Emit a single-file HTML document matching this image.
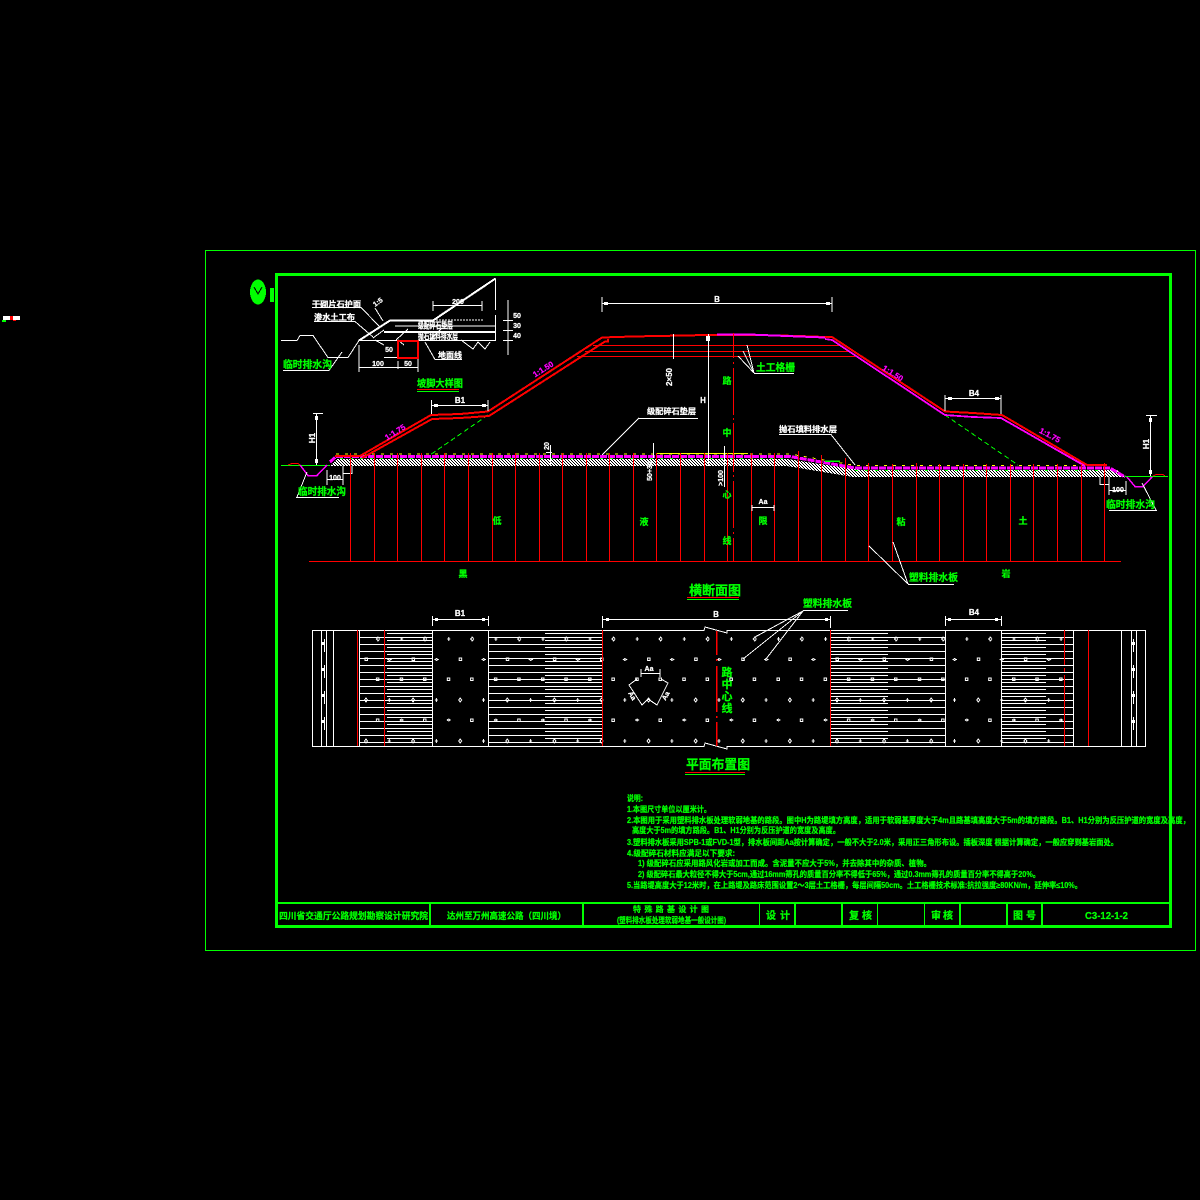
<!DOCTYPE html>
<html><head><meta charset="utf-8"><style>
html,body{margin:0;padding:0;background:#000}
svg{display:block}
text{font-family:"Liberation Sans","Noto Sans CJK SC",sans-serif;font-weight:700;stroke-width:.25px}
.g{fill:#0f0;stroke:#0f0}.w{fill:#fff;stroke:#fff}.m{fill:#f0f;stroke:#f0f}
</style></head><body>
<svg xmlns="http://www.w3.org/2000/svg" width="1200" height="1200" viewBox="0 0 1200 1200" shape-rendering="crispEdges">
<defs>
<pattern id="full" patternUnits="userSpaceOnUse" x="0" y="637" width="10" height="7"><rect width="10" height="1" fill="#fff"/></pattern>
<pattern id="half" patternUnits="userSpaceOnUse" x="0" y="633" width="10" height="7"><rect width="10" height="1" fill="#fff"/></pattern>
<pattern id="hatch" patternUnits="userSpaceOnUse" width="3" height="3"><rect width="3" height="3" fill="#fff"/><rect width="1" height="1" fill="#000"/><rect x="1" y="1" width="1" height="1" fill="#000"/><rect x="2" y="2" width="1" height="1" fill="#000"/></pattern>
<pattern id="dots" patternUnits="userSpaceOnUse" x="364" y="630" width="47.1" height="122">
<g fill="none" stroke="#fff" stroke-width="1">
<path d="M14 7l1.5 2-1.5 2-1.5-2zM36 9h3M37.5 7v4"/>
<rect x="1" y="28" width="2.5" height="2.5"/><path d="M24 29.5l1.5-1 1.5 1-1.5 1z"/>
<rect x="12.5" y="48" width="2.5" height="2.5"/><rect x="36" y="48" width="2.5" height="2.5"/>
<path d="M2 68l1.5 2-1.5 2-1.5-2zM24 70h3M25.5 68v4"/>
<rect x="12.5" y="89" width="2.5" height="2.5"/><path d="M36 90l1.5-1 1.5 1-1.5 1z"/>
<path d="M2 109l1.5 2-1.5 2-1.5-2zM24 111h3M25.5 109v4"/>
</g></pattern>
</defs>
<rect width="1200" height="1200" fill="#000"/>

<!-- frames -->
<rect x="205.5" y="250.5" width="990" height="700" fill="none" stroke="#0f0"/>
<rect x="276.5" y="274.5" width="894" height="652" fill="none" stroke="#0f0" stroke-width="3"/>
<path d="M277 903H1171M430 903V926M583 903V926M795 903V926M842 903V926M960 903V926M1007 903V926M1042 903V926" stroke="#0f0" stroke-width="2" fill="none"/>
<path d="M759.5 903V926M877.5 903V926M924.5 903V926" stroke="#0f0" fill="none"/>

<!-- stray -->
<rect x="3" y="316" width="17" height="4" fill="#fff"/><rect x="10" y="316" width="3" height="4" fill="#f00"/><rect x="2" y="320" width="4" height="2" fill="#0f0"/><rect x="13" y="320" width="3" height="1" fill="#f00"/>

<!-- logo -->
<ellipse cx="258" cy="292" rx="8" ry="12.5" fill="#0f0"/><path d="M254 287l4 7 4-7" stroke="#000" fill="none"/><rect x="270" y="288" width="4" height="14" fill="#0f0"/>

<!-- detail drawing -->
<g fill="none" stroke="#fff">
<path d="M281 340.5H297L300 335.5H313L328 357.5H348L359 340.5H495.5V315M495.5 310V278.5"/>
<path d="M495.5 278.5L433 320.5H390L359 340.5" stroke-width="2"/>
<path d="M433 320H483" stroke-dasharray="2 1"/>
<path d="M384 330L373 338M384 331.5H495M384 332.5H495" />
<path d="M395 326H495M375 340L384 345M396 340L408 329M398 340L404 345M430 340L442 328"/>
<path d="M312 307.5H361L380 327M314 321.5H355L373 337M375 308L383 321"/>
<path d="M433 301V311M482 301V311M433 305.5H482"/>
<path d="M508 300V355M503 320.5H513M503 330.5H513M503 340.5H513"/>
<path d="M425 342L435 359.5H462"/>
<path d="M461 340L473 349L478 342L485 349L490 342"/>
<path d="M359 345V372M418 355V372M398 361V369M359 367.5H418M384 357.5H398"/>
<path d="M329 370.5L342 352M283 370.5H329" stroke="#fff"/>
</g>
<rect x="398" y="341" width="20" height="17" fill="none" stroke="#f00" stroke-width="2"/>
<text x="312" y="307" font-size="8" class="w" textLength="49" lengthAdjust="spacingAndGlyphs">干砌片石护面</text>
<text x="314" y="320" font-size="8" class="w" textLength="41" lengthAdjust="spacingAndGlyphs">渗水土工布</text>
<text x="375" y="307" font-size="7" class="w" transform="rotate(-35 375 307)">1:5</text>
<text x="458" y="304" font-size="7" class="w" text-anchor="middle">200</text>
<text x="418" y="328.5" font-size="9" class="w" textLength="35" lengthAdjust="spacingAndGlyphs">级配碎石垫层</text>
<text x="418" y="339.5" font-size="9" class="w" textLength="40" lengthAdjust="spacingAndGlyphs">抛石填料排水层</text>
<text x="438" y="358" font-size="8" class="w" textLength="24" lengthAdjust="spacingAndGlyphs">地面线</text>
<text x="378" y="366" font-size="7" class="w" text-anchor="middle">100</text>
<text x="408" y="366" font-size="7" class="w" text-anchor="middle">50</text>
<text x="389" y="352" font-size="7" class="w" text-anchor="middle">50</text>
<text x="517" y="318" font-size="7" class="w" text-anchor="middle">50</text>
<text x="517" y="328" font-size="7" class="w" text-anchor="middle">30</text>
<text x="517" y="338" font-size="7" class="w" text-anchor="middle">40</text>
<text x="283" y="368" font-size="10" class="g" textLength="49" lengthAdjust="spacingAndGlyphs">临时排水沟</text>
<text x="417" y="387" font-size="10" class="g" textLength="46" lengthAdjust="spacingAndGlyphs">坡脚大样图</text>
<path d="M417 389.5H459" stroke="#f00"/><path d="M417 391.5H459" stroke="#0f0"/>

<!-- green dashed slopes -->
<path d="M488 415L430 455M945 415L1018 465" stroke="#0f0" stroke-dasharray="5 3" fill="none"/>

<!-- gravel -->
<path d="M337 459H787L860 470H1117L1126 477H853L787 466H330Z" fill="url(#hatch)"/>
<path d="M336 454H790L855 465.5H1105" fill="none" stroke="#ff0" stroke-dasharray="3 6"/>
<path d="M657 453.5H748" stroke="#ff0"/>
<path d="M330 462L336 456.5H790L855 468H1110L1125 477" fill="none" stroke="#f0f" stroke-width="3" stroke-dasharray="7 1"/>
<path d="M340 458.5H790M855 470.5H1105" stroke="#0f0" stroke-dasharray="3 7" fill="none"/>
<path d="M825 461H840" stroke="#0f0" stroke-width="1.5"/>

<!-- ground and ditches -->
<path d="M281 465.5H330M1125 476.5H1168" stroke="#0f0" fill="none"/>
<path d="M300 465L308 475.5H317L327 465M1127 477L1135 486.5H1143L1152 477" stroke="#f0f" stroke-width="1.5" fill="none"/>
<path d="M288 465L292 463.5H298L300 465M1153 476L1156 474.5H1163L1165 476" stroke="#f00" fill="none"/>
<path d="M1100 477V484.5H1109V477M343 466V473.5H352V466" stroke="#fff" fill="none"/>

<!-- embankment -->
<g fill="none" stroke="#f00" stroke-width="2">
<path d="M335 456H360L431 415L460 414L488 411.5L602 337.5L632 336.5L683 335.5L717 334.8"/>
<path d="M362 458L432 419L460 418L489 416L605 341.5H608V339"/>
<path d="M717 334.8H749L799 336L825 337H832L945 411.5L973 413L1002 415L1087 465H1107"/>
</g>
<g fill="none" stroke="#f00" stroke-width="1">
<path d="M593 345.5H840M585 351.5H848M577 356.5H855"/>
</g>
<path d="M717 334.5H749L799 336.5L825 337.5" stroke="#f0f" stroke-width="2" fill="none"/>
<path d="M825 339L832 340L945 415L973 417L1001 418L1085 466" stroke="#f0f" stroke-width="1.8" fill="none"/>

<!-- drains -->
<g transform="translate(.5 0)">
<path d="M350 453V561M374 453V561M397 453V561M421 453V561M444 453V561M468 453V561M492 453V561M515 453V561M539 453V561M562 453V561M586 453V561M609 453V561M633 453V561M656 453V561M680 453V561M704 453V561M727 453V561M751 453V561M774 453V561M798 451V561M821 455V561M845 458V561M868 463V561M892 464V561M916 463V561M939 464V561M963 464V561M986 464V561M1010 464V561M1033 464V561M1057 464V561M1081 464V561M1104 463V561" stroke="#f00" stroke-width="1.2" fill="none"/>
</g>
<path d="M309 561.5H1121" stroke="#f00" stroke-width="1.2" fill="none"/>
<path d="M733.5 333V358M733.5 362V364M733.5 368V415M733.5 418V420M733.5 423V472M733.5 475V477M733.5 481V528M733.5 532V534M733.5 538V561" stroke="#f00" stroke-width="1.2" fill="none"/>

<!-- section dims -->
<g fill="none" stroke="#fff">
<path d="M602 297V312M832 297V312M602 303.5H832"/>
<path d="M431.5 400V414M488 400V411M431 405.5H488"/>
<path d="M945 395V411M1001 395V414M945 398.5H1001"/>
<path d="M316.5 413V465M313 413.5H323"/>
<path d="M1150.5 415V476M1146 415.5H1157"/>
<path d="M327 470V485M343 470V485M327 479.5H343"/>
<path d="M1109 484V495M1126 481V495M1109 490.5H1126"/>
<path d="M708.5 334V466"/>
<path d="M673.5 334V359"/>
<path d="M550.5 445V466M546 452.5H552"/>
<path d="M653.5 443V458"/>
<path d="M724.5 446V487"/>
<path d="M752 505V511M774 505V511M752 507.5H774"/>
<path d="M639 418.5H698M639 418L620 437L602 455"/>
<path d="M779 434.5H831L855 465"/>
<path d="M754 373.5H794M754 373L738 356M754 373L743 351M754 373L747 345"/>
<path d="M908 584.5H954M908 584L869 546M908 584L893 542"/>
<path d="M296 497.5H339M297 497L307 472"/>
<path d="M1109 510.5H1157M1156 510L1142 483"/>
</g>
<g fill="#fff">
<rect x="604" y="302" width="4" height="3"/><rect x="826" y="302" width="4" height="3"/>
<rect x="434" y="404" width="4" height="3"/><rect x="482" y="404" width="4" height="3"/>
<rect x="948" y="397" width="4" height="3"/><rect x="995" y="397" width="4" height="3"/>
<rect x="315" y="416" width="3" height="4"/><rect x="315" y="459" width="3" height="4"/>
<rect x="1149" y="418" width="3" height="4"/><rect x="1149" y="470" width="3" height="4"/>
<rect x="706" y="336" width="4" height="5"/>
</g>
<text x="717" y="302" font-size="8" class="w" text-anchor="middle">B</text>
<text x="460" y="403" font-size="8" class="w" text-anchor="middle">B1</text>
<text x="974" y="396" font-size="8" class="w" text-anchor="middle">B4</text>
<text x="315" y="438" font-size="8" class="w" text-anchor="middle" transform="rotate(-90 315 438)">H1</text>
<text x="1149" y="444" font-size="8" class="w" text-anchor="middle" transform="rotate(-90 1149 444)">H1</text>
<text x="703" y="403" font-size="8" class="w" text-anchor="middle">H</text>
<text x="672" y="377" font-size="8" class="w" text-anchor="middle" transform="rotate(-90 672 377)">2×50</text>
<text x="549" y="446" font-size="7" class="w" text-anchor="middle" transform="rotate(-90 549 446)">20</text>
<text x="652" y="471" font-size="7" class="w" text-anchor="middle" transform="rotate(-90 652 471)">50+30</text>
<text x="723" y="478" font-size="7" class="w" text-anchor="middle" transform="rotate(-90 723 478)">&gt;100</text>
<text x="763" y="504" font-size="7" class="w" text-anchor="middle">Aa</text>
<text x="335" y="480" font-size="7" class="w" text-anchor="middle">100</text>
<text x="1118" y="492" font-size="7" class="w" text-anchor="middle">100</text>
<text x="395" y="435" font-size="8" class="m" text-anchor="middle" transform="rotate(-32 395 432)">1:1.75</text>
<text x="543" y="372" font-size="8" class="m" text-anchor="middle" transform="rotate(-32 543 369)">1:1.50</text>
<text x="893" y="376" font-size="8" class="m" text-anchor="middle" transform="rotate(32 893 373)">1:1.50</text>
<text x="1050" y="438" font-size="8" class="m" text-anchor="middle" transform="rotate(28 1050 435)">1:1.75</text>
<text x="647" y="414" font-size="8" class="w" textLength="49" lengthAdjust="spacingAndGlyphs">级配碎石垫层</text>
<text x="779" y="432" font-size="8" class="w" textLength="58" lengthAdjust="spacingAndGlyphs">抛石填料排水层</text>
<text x="756" y="371" font-size="10" class="g" textLength="39" lengthAdjust="spacingAndGlyphs">土工格栅</text>
<g class="g" font-size="9" text-anchor="middle">
<text x="727" y="384">路</text><text x="727" y="436">中</text><text x="727" y="498">心</text><text x="727" y="544">线</text>
<text x="497" y="524">低</text><text x="644" y="525">液</text><text x="763" y="524">限</text><text x="901" y="525">粘</text><text x="1023" y="524">土</text>
<text x="463" y="577">黑</text><text x="1006" y="577">岩</text>
</g>
<text x="909" y="581" font-size="10" class="g" textLength="49" lengthAdjust="spacingAndGlyphs">塑料排水板</text>
<text x="298" y="495" font-size="10" class="g" textLength="48" lengthAdjust="spacingAndGlyphs">临时排水沟</text>
<text x="1106" y="508" font-size="10" class="g" textLength="49" lengthAdjust="spacingAndGlyphs">临时排水沟</text>
<text x="689" y="595" font-size="13" class="g" textLength="52" lengthAdjust="spacingAndGlyphs">横断面图</text>
<path d="M687 597.5H739" stroke="#f00"/><path d="M687 599.5H739" stroke="#0f0"/>

<!-- plan -->
<rect x="359" y="637" width="73" height="107" fill="url(#full)"/>
<rect x="488" y="637" width="115" height="107" fill="url(#full)"/>
<rect x="830" y="637" width="115" height="107" fill="url(#full)"/>
<rect x="1001" y="637" width="72" height="107" fill="url(#full)"/>
<rect x="387" y="633" width="45" height="107" fill="url(#half)"/>
<rect x="545" y="633" width="57" height="107" fill="url(#half)"/>
<rect x="830" y="633" width="58" height="107" fill="url(#half)"/>
<rect x="1001" y="633" width="45" height="107" fill="url(#half)"/>
<rect x="364" y="632" width="702" height="113" fill="url(#dots)"/>
<g fill="none" stroke="#fff">
<path d="M312.5 630.5H704L705 627L727 633V630.5H1145.5V746.5H727V749L705 743L704 746.5H312.5Z"/>
<path d="M321.5 631V746M326.5 631V746M333.5 631V746M359.5 631V746M432.5 631V746M488.5 631V746M945.5 631V746M1001.5 631V746M1073.5 631V746M1121.5 631V746M1131.5 631V746M1136.5 631V746"/>
<path d="M324.5 639V652M324.5 665V678M324.5 691V704M324.5 717V730M1133.5 639V652M1133.5 665V678M1133.5 691V704M1133.5 717V730"/>
<path d="M432.5 616V626M488.5 616V626M432 619.5H488M602.5 616V628M830.5 616V628M602 619.5H830M945.5 616V626M1001.5 616V626M945 619.5H1001"/>
<path d="M803 610.5H848M803 611L755 637M803 611L743 659M803 611L766 659"/>
<path d="M641 669V677M660 669V677M641 673.5H660"/>
<path d="M637 679L629 685L642 705L648 699L657 705L668 683L661 679"/>
</g>
<g fill="#fff">
<rect x="322" y="642" width="3" height="3"/><rect x="322" y="668" width="3" height="3"/><rect x="322" y="694" width="3" height="3"/><rect x="322" y="720" width="3" height="3"/>
<rect x="1132" y="642" width="3" height="3"/><rect x="1132" y="668" width="3" height="3"/><rect x="1132" y="694" width="3" height="3"/><rect x="1132" y="720" width="3" height="3"/>
<rect x="435" y="618" width="3" height="3"/><rect x="482" y="618" width="3" height="3"/><rect x="606" y="618" width="3" height="3"/><rect x="825" y="618" width="3" height="3"/><rect x="948" y="618" width="3" height="3"/><rect x="995" y="618" width="3" height="3"/>
</g>
<g stroke="#f00" fill="none">
<path d="M357.5 630V746M384.5 630V746M602.5 630V746M830.5 630V746M1088.5 630V746M1064.5 630V665M1064.5 668V672M1064.5 675V746" stroke-width="1.2"/>
<path d="M716.5 631V655M716.5 659V661M716.5 666V712M716.5 716V718M716.5 722V746" stroke-width="1.5"/>
</g>
<text x="460" y="616" font-size="8" class="w" text-anchor="middle">B1</text>
<text x="716" y="617" font-size="8" class="w" text-anchor="middle">B</text>
<text x="974" y="615" font-size="8" class="w" text-anchor="middle">B4</text>
<text x="649" y="671" font-size="7" class="w" text-anchor="middle">Aa</text>
<text x="632" y="698" font-size="7" class="w" text-anchor="middle" transform="rotate(60 632 696)">Aa</text>
<text x="666" y="698" font-size="7" class="w" text-anchor="middle" transform="rotate(-60 666 696)">Aa</text>
<g class="g" font-size="11" text-anchor="middle">
<text x="727" y="676">路</text><text x="727" y="688">中</text><text x="727" y="700">心</text><text x="727" y="712">线</text>
</g>
<text x="803" y="607" font-size="10" class="g" textLength="49" lengthAdjust="spacingAndGlyphs">塑料排水板</text>
<text x="686" y="769" font-size="13" class="g" textLength="64" lengthAdjust="spacingAndGlyphs">平面布置图</text>
<path d="M685 772.5H745" stroke="#f00"/><path d="M685 774.5H745" stroke="#0f0"/>

<!-- notes -->
<g class="g" font-size="8">
<text x="627" y="801" textLength="16" lengthAdjust="spacingAndGlyphs">说明:</text>
<text x="627" y="812" textLength="84" lengthAdjust="spacingAndGlyphs">1.本图尺寸单位以厘米计。</text>
<text x="627" y="823" textLength="563" lengthAdjust="spacingAndGlyphs">2.本图用于采用塑料排水板处理软弱地基的路段。图中H为路堤填方高度，适用于软弱基厚度大于4m且路基填高度大于5m的填方路段。B1、H1分别为反压护道的宽度及高度，</text>
<text x="632" y="833" textLength="208" lengthAdjust="spacingAndGlyphs">高度大于5m的填方路段。B1、H1分别为反压护道的宽度及高度。</text>
<text x="627" y="845" textLength="491" lengthAdjust="spacingAndGlyphs">3.塑料排水板采用SPB-1或FVD-1型，排水板间距Aa按计算确定，一般不大于2.0米，采用正三角形布设。插板深度 根据计算确定，一般应穿到基岩面处。</text>
<text x="627" y="856" textLength="108" lengthAdjust="spacingAndGlyphs">4.级配碎石材料应满足以下要求:</text>
<text x="638" y="866" textLength="293" lengthAdjust="spacingAndGlyphs">1) 级配碎石应采用路风化岩或加工而成。含泥量不应大于5%，并去除其中的杂质、植物。</text>
<text x="638" y="877" textLength="402" lengthAdjust="spacingAndGlyphs">2) 级配碎石最大粒径不得大于5cm,通过16mm筛孔的质量百分率不得低于65%，通过0.3mm筛孔的质量百分率不得高于20%。</text>
<text x="627" y="888" textLength="455" lengthAdjust="spacingAndGlyphs">5.当路堤高度大于12米时，在上路堤及路床范围设置2～3层土工格栅，每层间隔50cm。土工格栅技术标准:抗拉强度≥80KN/m，延伸率≤10%。</text>
</g>

<!-- title block -->
<g class="g">
<text x="279" y="919" font-size="9" textLength="149" lengthAdjust="spacingAndGlyphs">四川省交通厅公路规划勘察设计研究院</text>
<text x="447" y="919" font-size="9" textLength="119" lengthAdjust="spacingAndGlyphs">达州至万州高速公路（四川境）</text>
<text x="633" y="912" font-size="8" textLength="76" lengthAdjust="spacing">特殊路基设计图</text>
<text x="617" y="923" font-size="8" textLength="109" lengthAdjust="spacingAndGlyphs">(塑料排水板处理软弱地基一般设计图)</text>
<text x="766" y="919" font-size="10" textLength="24" lengthAdjust="spacing">设计</text>
<text x="849" y="919" font-size="10" textLength="23" lengthAdjust="spacing">复核</text>
<text x="931" y="919" font-size="10" textLength="22" lengthAdjust="spacing">审核</text>
<text x="1013" y="919" font-size="10" textLength="23" lengthAdjust="spacing">图号</text>
<text x="1085" y="919" font-size="10" textLength="43" lengthAdjust="spacingAndGlyphs">C3-12-1-2</text>
</g>
</svg>
</body></html>
